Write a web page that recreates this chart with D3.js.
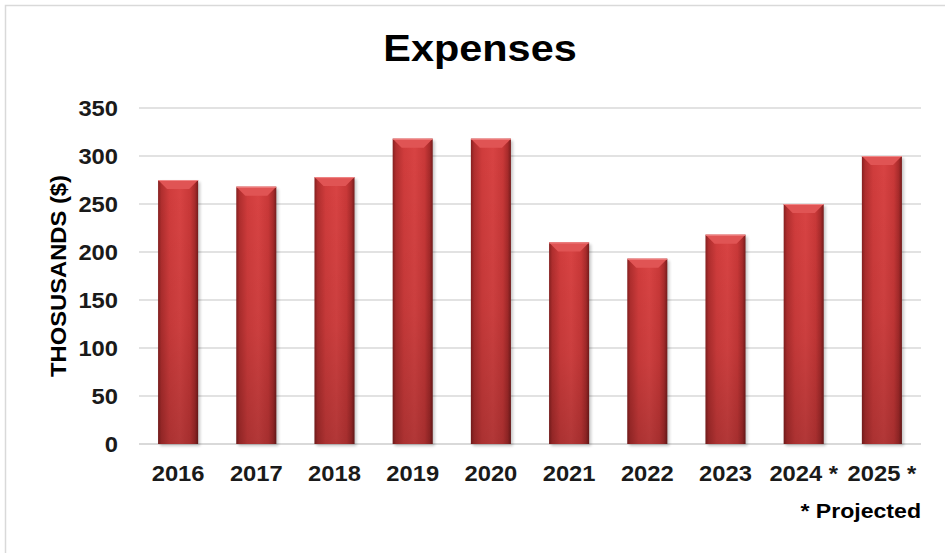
<!DOCTYPE html>
<html>
<head>
<meta charset="utf-8">
<script src="https://cdn.jsdelivr.net/npm/d3@7"></script>
<style>
html,body{margin:0;padding:0;background:#fff;}
svg{display:block;font-family:"Liberation Sans",Arial,sans-serif;}
</style>
</head>
<body>
<svg id="chart" width="945" height="553"></svg>
<script>
const categories = ["2016","2017","2018","2019","2020","2021","2022","2023","2024 *","2025 *"];
const expenses = [275, 268, 278, 318, 318, 210, 193, 218, 250, 300];
const yTicks = [0, 50, 100, 150, 200, 250, 300, 350];
const titleText = "Expenses";
const yAxisTitle = "THOSUSANDS ($)";
const footnote = "* Projected";

const svg = d3.select("#chart");
const plot = {left: 139, right: 921, top: 108, bottom: 444};
const sx = 1.08;

// outer border
svg.append("rect").attr("x", 5.5).attr("y", 5.5).attr("width", 945).attr("height", 560)
  .attr("fill", "#fff").attr("stroke", "#d9d9d9").attr("stroke-width", 1.5);

const defs = svg.append("defs");
const hg = defs.append("linearGradient").attr("id", "hgrad").attr("x1", "0").attr("x2", "1").attr("y1", "0").attr("y2", "0");
[["0%", "#862020"], ["8%", "#b02e2e"], ["28%", "#d03c3c"], ["55%", "#d84343"], ["80%", "#c93838"], ["92%", "#a82b2b"], ["100%", "#761c1c"]]
  .forEach(([o, c]) => hg.append("stop").attr("offset", o).attr("stop-color", c));
const vg = defs.append("linearGradient").attr("id", "vgrad").attr("x1", "0").attr("x2", "0").attr("y1", "0").attr("y2", "1");
[["0%", "#000", 0], ["55%", "#000", 0.06], ["100%", "#000", 0.18]]
  .forEach(([o, c, a]) => vg.append("stop").attr("offset", o).attr("stop-color", c).attr("stop-opacity", a));
const f = defs.append("filter").attr("id", "shadow").attr("x", "-20%").attr("y", "-20%").attr("width", "140%").attr("height", "140%");
f.append("feGaussianBlur").attr("stdDeviation", 1.6);

const x = d3.scaleBand().domain(categories).range([plot.left, plot.right]).paddingInner(0.488).paddingOuter(0.244);
const y = d3.scaleLinear().domain([0, 350]).range([plot.bottom, plot.top]);

// gridlines
svg.append("g").selectAll("line").data(yTicks).join("line")
  .attr("x1", plot.left).attr("x2", plot.right)
  .attr("y1", d => y(d)).attr("y2", d => y(d))
  .attr("stroke", "#d9d9d9").attr("stroke-width", d => d === 0 ? 2 : 1.5);

// y axis labels
const yAxis = d3.axisLeft(y).tickValues(yTicks).tickSize(0).tickPadding(0);
const ya = svg.append("g").attr("transform", `translate(${118},0)`).call(yAxis);
ya.select(".domain").remove();
ya.selectAll("text").attr("font-family", "Liberation Sans, Arial, sans-serif")
  .attr("font-size", 22).attr("font-weight", "bold").attr("fill", "#1a1a1a").attr("dy", "0.36em")
  .attr("transform", `scale(${sx},1)`);

// x axis labels
const xAxis = d3.axisBottom(x).tickSize(0).tickPadding(0);
const xa = svg.append("g").attr("transform", `translate(0,${plot.bottom})`).call(xAxis);
xa.select(".domain").remove();
xa.selectAll("text").attr("font-family", "Liberation Sans, Arial, sans-serif")
  .attr("font-size", 22).attr("font-weight", "bold").attr("fill", "#1a1a1a")
  .attr("dy", null).attr("y", 37.5).attr("transform", `scale(${sx},1)`);

// bars
const bars = svg.append("g").selectAll("g").data(categories.map((c, i) => ({c, v: expenses[i]}))).join("g");
bars.append("rect")
  .attr("x", d => x(d.c) + 2).attr("y", d => y(d.v) + 2)
  .attr("width", x.bandwidth()).attr("height", d => plot.bottom - y(d.v))
  .attr("fill", "#000").attr("opacity", 0.22).attr("filter", "url(#shadow)");
bars.append("rect")
  .attr("x", d => x(d.c)).attr("y", d => y(d.v))
  .attr("width", x.bandwidth()).attr("height", d => plot.bottom - y(d.v))
  .attr("fill", "url(#hgrad)");
bars.append("rect")
  .attr("x", d => x(d.c)).attr("y", d => y(d.v))
  .attr("width", x.bandwidth()).attr("height", d => plot.bottom - y(d.v))
  .attr("fill", "url(#vgrad)");
const b = 9;
bars.append("path")
  .attr("d", d => {
    const x0 = x(d.c), x1 = x0 + x.bandwidth(), y0 = y(d.v);
    return `M${x0},${y0}L${x1},${y0}L${x1 - b},${y0 + b}L${x0 + b},${y0 + b}Z`;
  })
  .attr("fill", "#e05454");
bars.append("line")
  .attr("x1", d => x(d.c)).attr("x2", d => x(d.c) + x.bandwidth())
  .attr("y1", d => y(d.v) + 0.5).attr("y2", d => y(d.v) + 0.5)
  .attr("stroke", "#f08888").attr("stroke-width", 1);

// title
svg.append("text").attr("transform", `translate(480,61) scale(1.12,1)`).attr("text-anchor", "middle")
  .attr("font-size", 37).attr("font-weight", "bold").attr("fill", "#000").text(titleText);

// y axis title
svg.append("text").attr("transform", `translate(66,276) rotate(-90) scale(${sx},1)`).attr("text-anchor", "middle")
  .attr("font-size", 22).attr("font-weight", "bold").attr("fill", "#000").text(yAxisTitle);

// footnote
svg.append("text").attr("transform", `translate(921,518) scale(1.1,1)`).attr("text-anchor", "end")
  .attr("font-size", 21).attr("font-weight", "bold").attr("fill", "#000").text(footnote);
</script>
</body>
</html>
